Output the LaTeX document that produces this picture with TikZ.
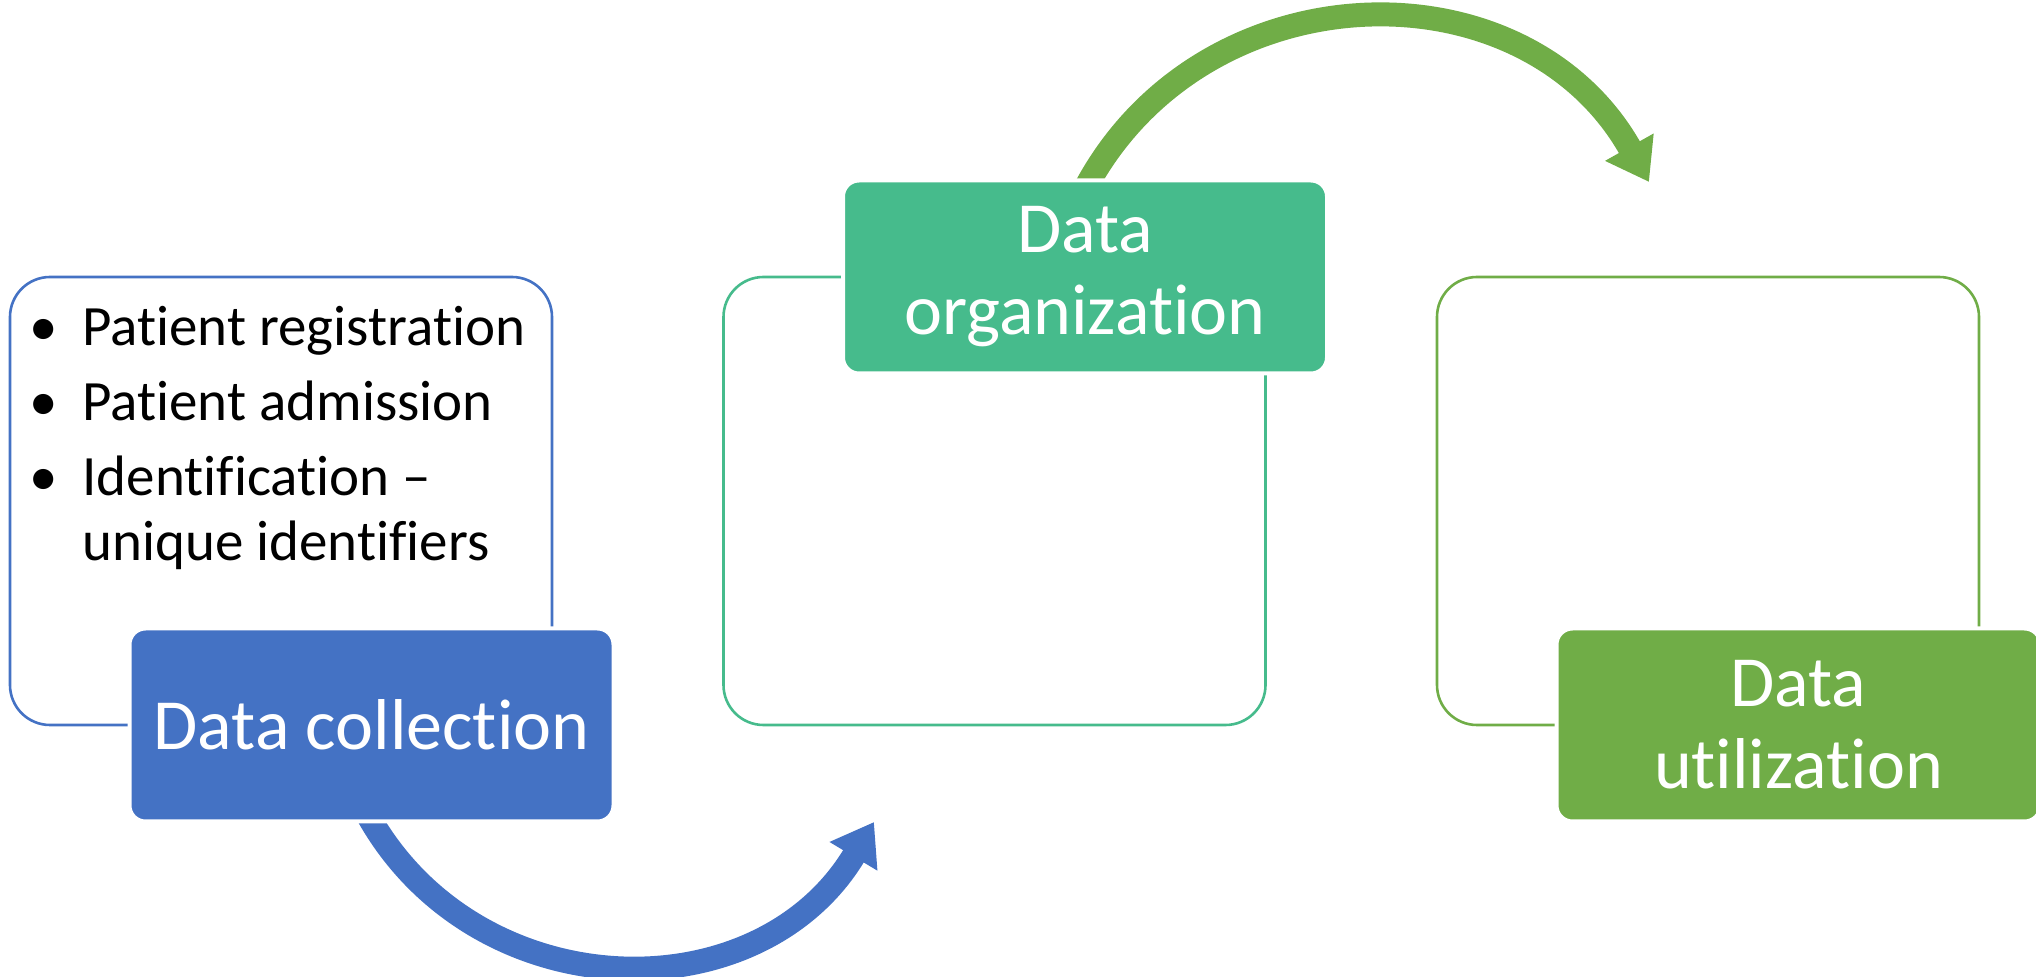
\documentclass[tikz,border=0pt]{standalone}
\usepackage{fontspec}
\setmainfont{Carlito}[Ligatures=NoCommon]
\usetikzlibrary{positioning, arrows.meta}
\definecolor{stepblue}{HTML}{4472C4}
\definecolor{stepteal}{HTML}{46BB8C}
\definecolor{stepgreen}{HTML}{70AD47}

\begin{document}
\begin{tikzpicture}[x=0.5pt, y=-0.5pt,
    outerbox/.style={draw, rounded corners=20pt, line width=1.3pt, minimum width=271pt, minimum height=224pt, inner sep=0pt, outer sep=0pt},
    titlebox/.style={draw=white, line width=2pt, rounded corners=8pt, minimum width=242pt, minimum height=96.5pt, inner sep=0pt, text=white, align=center, font=\fontsize{36}{41}\selectfont},
    sweep/.style={line width=12pt, -{Triangle[width=26.5pt, length=20pt]}}]
    \useasboundingbox (0,0) rectangle (2036,977);

    \node[outerbox, draw=stepblue] (outA) at (281,501) {};
    \node[outerbox, draw=stepteal] (outB) at (994.5,501) {};
    \node[outerbox, draw=stepgreen] (outC) at (1708,501) {};

    \node[anchor=base west, inner sep=0pt, font=\fontsize{28.5}{32.5}\selectfont] (duties) at (4,346) {\begin{tabular}[t]{@{}l@{}l@{}}
        \makebox[39pt]{•} & Patient registration\\[5pt]
        \makebox[39pt]{•} & Patient admission\\[5pt]
        \makebox[39pt]{•} & Identification –\\
        & unique identifiers
    \end{tabular}};

    \coordinate (tailA) at (362,804);
    \coordinate (tipA) at (874,822);
    \draw[sweep, stepblue] (tailA) .. controls +(104,205) and +(-118,197) .. (tipA);
    \coordinate (tailB) at (1077,205);
    \coordinate (tipB) at (1649,182);
    \draw[sweep, stepgreen] (tailB) .. controls +(110,-237) and +(-128,-227) .. (tipB);

    \node[titlebox, fill=stepblue] (collect) at ([xshift=45.25pt]outA.south) {Data collection};
    \node[titlebox, fill=stepteal] (organize) at ([xshift=45.25pt]outB.north) {Data\\organization};
    \node[titlebox, fill=stepgreen] (utilize) at ([xshift=45.25pt]outC.south) {Data\\utilization};
\end{tikzpicture}
\end{document}
